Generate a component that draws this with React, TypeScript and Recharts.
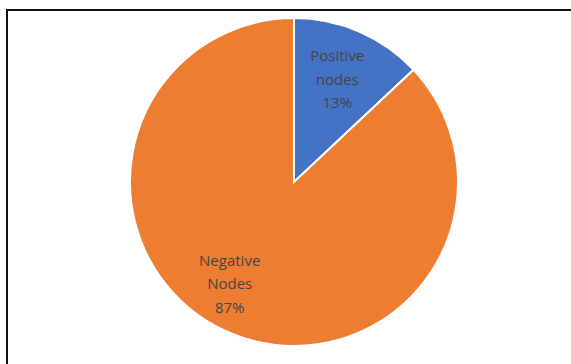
import { PieChart, Pie, Cell } from "recharts";

const categories = ["Positive nodes", "Negative Nodes"];
const labelLines = [
  ["Positive", "nodes"],
  ["Negative", "Nodes"],
];
const values = [13, 87];
const colors = ["#4472C4", "#ED7D31"];

const data = categories.map((name, i) => ({ name, value: values[i] }));

const RADIAN = Math.PI / 180;
// Excel "best fit" nudges the big slice label a little to the left
const labelNudgeX = [-1, -20];

function SliceLabel(props: any) {
  const { cx, cy, midAngle, outerRadius, index, percent } = props;
  const r = outerRadius * 0.68;
  const x = cx + r * Math.cos(-midAngle * RADIAN) + labelNudgeX[index];
  const y = cy + r * Math.sin(-midAngle * RADIAN);
  const lines = [...labelLines[index], `${Math.round(percent * 100)}%`];
  return (
    <text
      x={x}
      y={y}
      textAnchor="middle"
      fill="#454545"
      fontFamily="'Open Sans', Lato, sans-serif"
      fontSize={15}
    >
      {lines.map((l, i) => (
        <tspan key={i} x={x} y={y + (i - 1) * 23.5 + 5}>
          {l}
        </tspan>
      ))}
    </text>
  );
}

export default function App() {
  return (
    <div
      style={{
        position: "absolute",
        left: 0,
        top: 0,
        width: 571,
        height: 364,
        background: "#fff",
      }}
    >
      <div
        style={{
          position: "absolute",
          left: 6,
          top: 9,
          width: 565,
          height: 355,
          borderTop: "2px solid #111",
          borderLeft: "2px solid #111",
        }}
      />
      <div style={{ position: "absolute", left: 0, top: 0 }}>
        <PieChart
          width={571}
          height={364}
          margin={{ top: 0, right: 0, bottom: 0, left: 0 }}
        >
          <Pie
            data={data}
            dataKey="value"
            nameKey="name"
            cx={294}
            cy={182}
            outerRadius={164}
            startAngle={90}
            endAngle={-270}
            stroke="#fff"
            strokeWidth={2}
            label={SliceLabel}
            labelLine={false}
            isAnimationActive={false}
          >
            {data.map((d, i) => (
              <Cell key={d.name} fill={colors[i]} />
            ))}
          </Pie>
        </PieChart>
      </div>
    </div>
  );
}
